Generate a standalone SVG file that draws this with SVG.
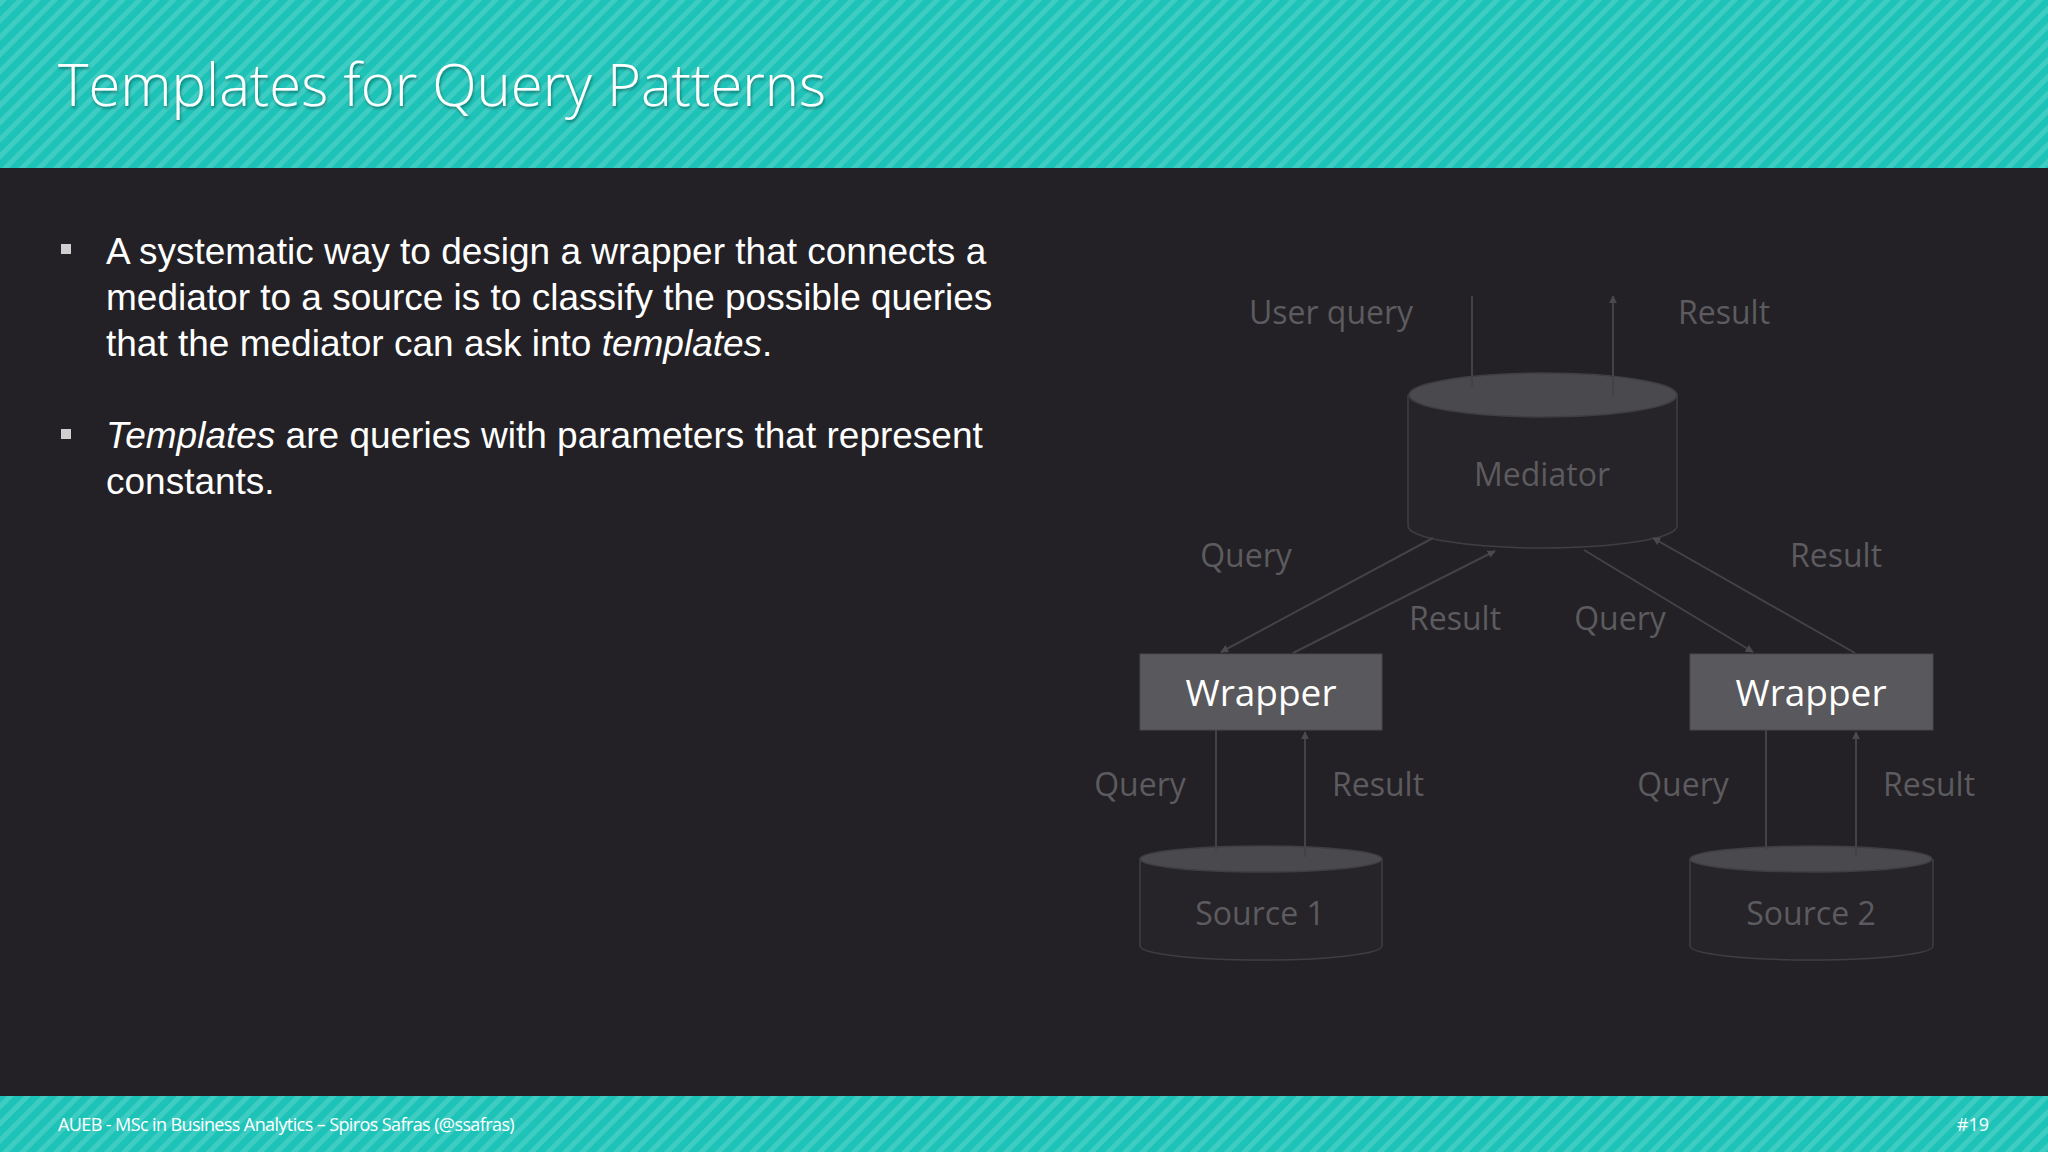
<svg xmlns="http://www.w3.org/2000/svg" width="2048" height="1152" viewBox="0 0 2048 1152">
<defs>
<pattern id="stripes" width="12" height="12" patternUnits="userSpaceOnUse" patternTransform="rotate(45)">
<rect width="12" height="12" fill="#1ec3b8"/>
<rect width="5" height="12" fill="#3fcdc3"/>
</pattern>
<marker id="ah" viewBox="0 0 10 10" refX="9" refY="5" markerWidth="4" markerHeight="4" orient="auto"><path d="M0,0L10,5L0,10z" fill="#4a494d"/></marker>
<filter id="sh"><feDropShadow dx="1" dy="2" stdDeviation="1.5" flood-color="#000" flood-opacity="0.4"/></filter>
</defs>
<style>
.body{font-family:"Liberation Sans",Arial,sans-serif;font-size:37px;fill:#ffffff}
.lbl{font-family:"Open Sans","DejaVu Sans",sans-serif;font-size:32px;fill:#5c5b5f;text-anchor:middle}
.cyl{fill:#262428;stroke:#3f3e42;stroke-width:1.5}
.top{fill:#4a494d;stroke:#3f3e42;stroke-width:1.5}
.ln{stroke:#434246;stroke-width:2;fill:none;marker-end:url(#ah)}
.wr{fill:#59585c;stroke:#4a494d}
.wt{font-family:"Open Sans","DejaVu Sans",sans-serif;font-size:37px;fill:#ffffff;text-anchor:middle}
</style>
<rect width="2048" height="1152" fill="#232125"/>
<rect width="2048" height="168" fill="url(#stripes)"/>
<rect y="1096" width="2048" height="56" fill="url(#stripes)"/>
<text x="58" y="106" font-family="Open Sans, sans-serif" font-weight="300" font-size="58" fill="#fff" filter="url(#sh)">Templates for Query Patterns</text>
<text x="58" y="1131" font-family="Open Sans, sans-serif" font-size="18" fill="#fff" letter-spacing="-0.6">AUEB - MSc in Business Analytics – Spiros Safras (@ssafras)</text>
<text x="1989" y="1131" font-family="Open Sans, sans-serif" font-size="18" fill="#fff" text-anchor="end">#19</text>
<g id="bullets">
<rect x="61" y="244" width="10" height="10" fill="#cfcfcf"/>
<rect x="61" y="429" width="10" height="10" fill="#cfcfcf"/>
<text class="body" x="106" y="264">A systematic way to design a wrapper that connects a</text>
<text class="body" x="106" y="310">mediator to a source is to classify the possible queries</text>
<text class="body" x="106" y="356">that the mediator can ask into <tspan font-style="italic">templates</tspan>.</text>
<text class="body" x="106" y="448"><tspan font-style="italic">Templates</tspan> are queries with parameters that represent</text>
<text class="body" x="106" y="494">constants.</text>
</g>
<g id="mediator">
<path class="cyl" d="M1408,395 V526 A134,22 0 0 0 1677,526 V395"/>
<ellipse class="top" cx="1543" cy="395" rx="134" ry="22"/>
<text class="lbl" x="1542" y="486" font-size="38">Mediator</text>
</g>
<g id="wrapper1"><rect class="wr" x="1140" y="654" width="242" height="76"/><text class="wt" x="1261" y="706">Wrapper</text></g>
<g id="wrapper2"><rect class="wr" x="1690" y="654" width="243" height="76"/><text class="wt" x="1811" y="706">Wrapper</text></g>
<g id="source1">
<path class="cyl" d="M1140,859 V946 A121,14 0 0 0 1382,946 V859"/>
<ellipse class="top" cx="1261" cy="859" rx="121" ry="13"/>
<text class="lbl" x="1260" y="925" font-size="38">Source 1</text>
</g>
<g id="source2">
<path class="cyl" d="M1690,859 V946 A121,14 0 0 0 1933,946 V859"/>
<ellipse class="top" cx="1811" cy="859" rx="121" ry="13"/>
<text class="lbl" x="1811" y="925" font-size="38">Source 2</text>
</g>
<g id="connectors">
<line class="ln" x1="1472" y1="296" x2="1472" y2="394"/>
<line class="ln" x1="1613" y1="396" x2="1613" y2="296"/>
<line class="ln" x1="1433" y1="538" x2="1221" y2="652"/>
<line class="ln" x1="1293" y1="653" x2="1495" y2="551"/>
<line class="ln" x1="1584" y1="550" x2="1753" y2="652"/>
<line class="ln" x1="1855" y1="653" x2="1653" y2="538"/>
<line class="ln" x1="1216" y1="730" x2="1216" y2="857"/>
<line class="ln" x1="1305" y1="857" x2="1305" y2="732"/>
<line class="ln" x1="1766" y1="730" x2="1766" y2="857"/>
<line class="ln" x1="1856" y1="857" x2="1856" y2="732"/>
</g>
<g id="labels">
<text class="lbl" x="1331" y="324">User query</text>
<text class="lbl" x="1724" y="324">Result</text>
<text class="lbl" x="1246" y="567">Query</text>
<text class="lbl" x="1455" y="630">Result</text>
<text class="lbl" x="1620" y="630">Query</text>
<text class="lbl" x="1836" y="567">Result</text>
<text class="lbl" x="1140" y="796">Query</text>
<text class="lbl" x="1378" y="796">Result</text>
<text class="lbl" x="1683" y="796">Query</text>
<text class="lbl" x="1929" y="796">Result</text>
</g>
</svg>
